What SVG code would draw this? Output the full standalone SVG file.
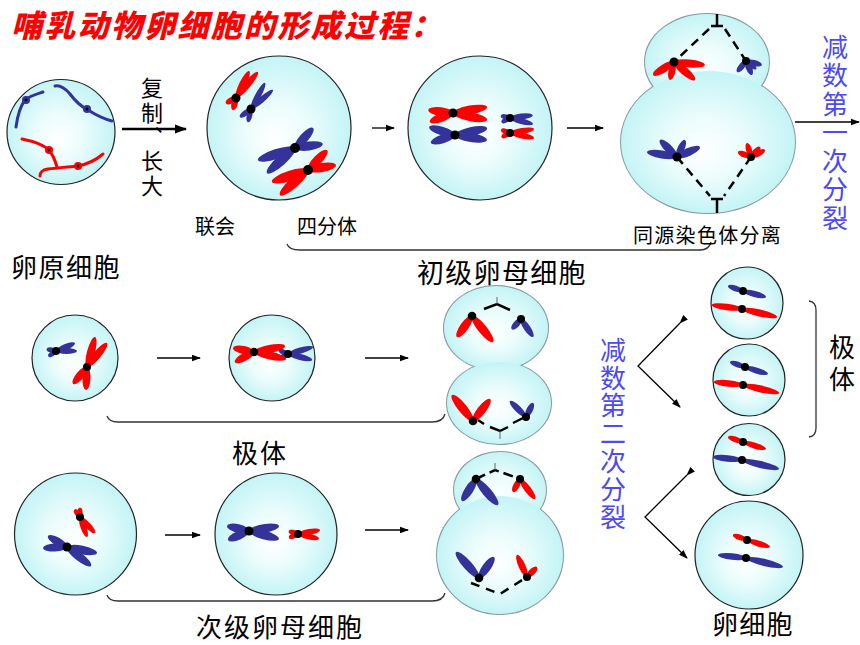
<svg xmlns="http://www.w3.org/2000/svg" width="860" height="645" viewBox="0 0 860 645">
<defs>
<radialGradient id="g" cx="0.5" cy="0.5" r="0.5" fx="0.47" fy="0.58">
<stop offset="0" stop-color="#ffffff"/>
<stop offset="0.45" stop-color="#ebfcfc"/>
<stop offset="1" stop-color="#c4f4f6"/>
</radialGradient>
<marker id="ah" markerWidth="9" markerHeight="8" refX="8" refY="4" orient="auto" markerUnits="userSpaceOnUse"><path d="M0,0.8 L9,4 L0,7.2 z" fill="#000"/></marker>
<marker id="ahb" markerWidth="12" markerHeight="10" refX="11" refY="5" orient="auto" markerUnits="userSpaceOnUse"><path d="M0,0.5 L12,5 L0,9.5 z" fill="#000"/></marker>
</defs>
<style>
.t{font-family:"Noto Sans CJK SC","Noto Sans",sans-serif;fill:#000}
.v{font-family:"Noto Sans CJK SC","Noto Sans",sans-serif;fill:#4b4bef;font-size:26px;writing-mode:vertical-rl}
.vt{font-family:"Noto Sans CJK SC","Noto Sans",sans-serif;fill:#000;writing-mode:vertical-rl}
.cell{fill:url(#g);stroke:#222;stroke-width:1.2}
.ol{fill:none;stroke:#8a9a9c;stroke-width:2}
.fl{fill:url(#g)}
.r{fill:#ff0000}
.b{fill:#333399}
.d{fill:#000}
.ln{fill:none;stroke:#000;stroke-width:1.3}
.br{fill:none;stroke:#333;stroke-width:1.3}
.sp{fill:none;stroke:#000;stroke-width:2.5;stroke-dasharray:9 6}
.so{fill:none;stroke:#000;stroke-width:2.5}
.tk{fill:none;stroke:#666;stroke-width:1}
</style>

<text x="11" y="37" font-size="31" font-style="italic" font-weight="900" fill="#ff0000" letter-spacing="2.3" font-family="'Noto Sans CJK SC','Noto Sans',sans-serif">哺乳动物卵细胞的形成过程：</text>

<g id="connectors">
<line x1="122" y1="129" x2="186" y2="129" stroke="#000" stroke-width="2.6" marker-end="url(#ahb)"/>
<line class="ln" x1="372" y1="128" x2="394" y2="128" marker-end="url(#ah)"/>
<line class="ln" x1="567" y1="128" x2="603" y2="128" marker-end="url(#ah)"/>
<line class="ln" x1="795" y1="122" x2="859" y2="122" marker-end="url(#ah)"/>
<line class="ln" x1="157" y1="358" x2="200" y2="358" marker-end="url(#ah)"/>
<line class="ln" x1="365" y1="358" x2="408" y2="358" marker-end="url(#ah)"/>
<line class="ln" x1="165" y1="535" x2="200" y2="535" marker-end="url(#ah)"/>
<line class="ln" x1="365" y1="530" x2="408" y2="530" marker-end="url(#ah)"/>
<polyline class="ln" points="680,323 638,366 680,407" marker-start="url(#ah)" marker-end="url(#ah)"/>
<polyline class="ln" points="687,475 645,517 687,558" marker-start="url(#ah)" marker-end="url(#ah)"/>
<path class="br" d="M287,244 Q289,250 300,250 L700,250 Q709,250 711,242"/>
<path class="br" d="M107,416 Q109,422 118,422 L432,422 Q443,422 445,414"/>
<path class="br" d="M107,595 Q109,601 118,601 L432,601 Q443,601 445,593"/>
<path class="br" d="M809,301 Q816,302 816,310 L816,428 Q816,436 809,437"/>
</g>

<g id="labels">
<text class="vt" x="152" y="77" font-size="22" letter-spacing="2.3">复制、长大</text>
<text class="t" x="195" y="234" font-size="20">联会</text>
<text class="t" x="297" y="234" font-size="20">四分体</text>
<text class="t" x="11" y="277" font-size="26" letter-spacing="1.5">卵原细胞</text>
<text class="t" x="417" y="283" font-size="27" letter-spacing="1.3">初级卵母细胞</text>
<text class="t" x="633" y="243" font-size="20" letter-spacing="1.3">同源染色体分离</text>
<text class="t" x="232" y="463" font-size="26" letter-spacing="2">极体</text>
<text class="t" x="196" y="637" font-size="26" letter-spacing="2">次级卵母细胞</text>
<text class="t" x="712" y="634" font-size="26" letter-spacing="1.3">卵细胞</text>
<text class="vt" x="842" y="334" font-size="26" letter-spacing="6">极体</text>
<text class="v" x="835" y="34" letter-spacing="2.5">减数第一次分裂</text>
<text class="v" x="613" y="337" letter-spacing="1.8">减数第二次分裂</text>
</g>

<g id="oogonium">
<ellipse class="cell" cx="61" cy="132" rx="54" ry="52.5"/>
<g fill="none" stroke-width="3" stroke-linecap="round">
<path stroke="#333399" d="M16,127 C18,112 22,104 25,100 C30,96 37,94 43,92"/>
<path stroke="#333399" d="M55,86 C60,85 64,87 70,94 C76,102 82,107 88,110 C96,115 104,119 112,121"/>
<path stroke="#ff0000" d="M22,139 C32,141 44,145 49,150 C53,155 55,160 57,167"/>
<path stroke="#ff0000" d="M40,176 C40,172 42,170 48,169 C56,168 68,167 78,166 C88,164 96,160 103,154"/>
</g>
<circle cx="26" cy="100" r="4" class="b"/><circle cx="26" cy="100" r="1.4" class="d"/>
<circle cx="87" cy="109" r="4" class="b"/><circle cx="87" cy="109" r="1.4" class="d"/>
<circle cx="49" cy="150" r="4" class="r"/><circle cx="49" cy="150" r="1.4" class="d"/>
<circle cx="78" cy="166" r="4" class="r"/><circle cx="78" cy="166" r="1.4" class="d"/>
</g>

<g id="synapsis">
<circle class="cell" cx="279" cy="128" r="72"/>
<g transform="translate(236 98)">
<ellipse class="r" cx="17" rx="17" ry="3.5" transform="rotate(-50)"/>
<ellipse class="r" cx="15" rx="15" ry="3.5" transform="rotate(-64)"/>
<ellipse class="r" cx="5.5" rx="6" ry="3.2" transform="rotate(153)"/>
<ellipse class="r" cx="6" rx="6.5" ry="3.2" transform="rotate(104)"/>
<circle r="4.5" class="d"/>
</g>
<g transform="translate(251 109)">
<ellipse class="b" cx="14.5" rx="14.5" ry="3" transform="rotate(-41)"/>
<ellipse class="b" cx="14.8" rx="14.8" ry="3" transform="rotate(-62)"/>
<ellipse class="b" cx="6.8" rx="7" ry="2.8" transform="rotate(144)"/>
<ellipse class="b" cx="6.6" rx="7" ry="2.8" transform="rotate(103)"/>
<circle r="4.5" class="d"/>
</g>
<g transform="translate(295 148)">
<ellipse class="b" cx="14" rx="14" ry="4.5" transform="rotate(-8)"/>
<ellipse class="b" cx="13.5" rx="13.5" ry="4.5" transform="rotate(-48)"/>
<ellipse class="b" cx="19.5" rx="19.5" ry="5" transform="rotate(162)"/>
<ellipse class="b" cx="18.8" rx="18.8" ry="5" transform="rotate(138)"/>
<circle r="5" class="d"/>
</g>
<g transform="translate(308 170)">
<ellipse class="r" cx="14.2" rx="14.2" ry="4.5" transform="rotate(-10)"/>
<ellipse class="r" cx="13.8" rx="13.8" ry="4.5" transform="rotate(-46)"/>
<ellipse class="r" cx="19" rx="19" ry="5" transform="rotate(162)"/>
<ellipse class="r" cx="18.8" rx="18.8" ry="5" transform="rotate(138)"/>
<circle r="5" class="d"/>
</g>
</g>

<g id="metaphase1">
<circle class="cell" cx="480" cy="128" r="72"/>
<g transform="translate(453 113)">
<ellipse class="r" cx="17.3" rx="17.3" ry="4.5" transform="rotate(-10)"/>
<ellipse class="r" cx="17.4" rx="17.4" ry="4.5" transform="rotate(11.6)"/>
<ellipse class="r" cx="12.5" rx="12.5" ry="4.3" transform="rotate(187)"/>
<ellipse class="r" cx="12.4" rx="12.4" ry="4.3" transform="rotate(159)"/>
<circle r="4.5" class="d"/>
</g>
<g transform="translate(455 135)">
<ellipse class="b" cx="16.4" rx="16.4" ry="4.5" transform="rotate(-12)"/>
<ellipse class="b" cx="16.2" rx="16.2" ry="4.5" transform="rotate(9)"/>
<ellipse class="b" cx="13.5" rx="13.5" ry="4.3" transform="rotate(197)"/>
<ellipse class="b" cx="12.7" rx="12.7" ry="4.3" transform="rotate(162)"/>
<circle r="4.5" class="d"/>
</g>
<g transform="translate(510 118)">
<ellipse class="b" cx="11.5" rx="11.5" ry="3" transform="rotate(-7)"/>
<ellipse class="b" cx="11.9" rx="11.9" ry="3" transform="rotate(15)"/>
<ellipse class="b" cx="4.5" rx="5" ry="2.6" transform="rotate(194)"/>
<ellipse class="b" cx="4.5" rx="5" ry="2.6" transform="rotate(153)"/>
<circle r="4" class="d"/>
</g>
<g transform="translate(510 133)">
<ellipse class="r" cx="12.2" rx="12.2" ry="3" transform="rotate(-9.5)"/>
<ellipse class="r" cx="12.3" rx="12.3" ry="3" transform="rotate(12)"/>
<ellipse class="r" cx="4.5" rx="5" ry="2.6" transform="rotate(200)"/>
<ellipse class="r" cx="4.5" rx="5" ry="2.6" transform="rotate(153)"/>
<circle r="4" class="d"/>
</g>
</g>

<g id="anaphase1">
<ellipse class="ol" cx="707" cy="62" rx="62" ry="48"/>
<ellipse class="ol" cx="708" cy="142" rx="87" ry="71"/>
<ellipse class="fl" cx="707" cy="62" rx="62" ry="48"/>
<ellipse class="fl" cx="708" cy="142" rx="87" ry="71"/>
<path class="sp" d="M709,29 L674,62 M725,29 L746,61 M677,157 L710,196 M751,157 L724,196"/>
<path class="so" d="M711,26 H723 M717,14 V26 M711,199 H723 M717,199 V213"/>
<g transform="translate(674 62)">
<ellipse class="r" cx="12.3" rx="12.3" ry="4" transform="rotate(148)"/>
<ellipse class="r" cx="9.2" rx="9.2" ry="3.5" transform="rotate(102.5)"/>
<ellipse class="r" cx="15.5" rx="15.5" ry="4" transform="rotate(5.5)"/>
<ellipse class="r" cx="13.8" rx="13.8" ry="4" transform="rotate(40.6)"/>
<circle r="4.5" class="d"/>
</g>
<g transform="translate(746 61)">
<ellipse class="b" cx="8.2" rx="8.2" ry="3" transform="rotate(14)"/>
<ellipse class="b" cx="7.6" rx="7.6" ry="3" transform="rotate(67)"/>
<ellipse class="b" cx="7.1" rx="7.1" ry="3" transform="rotate(129)"/>
<ellipse class="b" cx="6.5" rx="6.5" ry="2.6" transform="rotate(38)"/>
<circle r="4" class="d"/>
</g>
<g transform="translate(677 157)">
<ellipse class="b" cx="15.2" rx="15.2" ry="4" transform="rotate(189.5)"/>
<ellipse class="b" cx="12" rx="12" ry="4" transform="rotate(225)"/>
<ellipse class="b" cx="9.4" rx="9.4" ry="3.5" transform="rotate(-64.8)"/>
<ellipse class="b" cx="12.5" rx="12.5" ry="4" transform="rotate(-23.5)"/>
<circle r="4.5" class="d"/>
</g>
<g transform="translate(751 157)">
<ellipse class="r" cx="7" rx="7" ry="3" transform="rotate(201)"/>
<ellipse class="r" cx="7.3" rx="7.3" ry="3" transform="rotate(254)"/>
<ellipse class="r" cx="6.8" rx="6.8" ry="3" transform="rotate(-48)"/>
<ellipse class="r" cx="7.8" rx="7.8" ry="3" transform="rotate(-26.6)"/>
<circle r="4" class="d"/>
</g>
</g>

<g id="polar1-a">
<circle class="cell" cx="75" cy="358" r="43"/>
<g transform="translate(56 351)">
<ellipse class="b" cx="10.3" rx="10.3" ry="3" transform="rotate(-22.8)"/>
<ellipse class="b" cx="10.5" rx="10.5" ry="3" transform="rotate(0)"/>
<ellipse class="b" cx="4.6" rx="5" ry="2.6" transform="rotate(192.5)"/>
<ellipse class="b" cx="4.3" rx="5" ry="2.6" transform="rotate(144.5)"/>
<circle r="4" class="d"/>
</g>
<g transform="translate(87 367)">
<ellipse class="r" cx="15.5" rx="15.5" ry="4" transform="rotate(-75)"/>
<ellipse class="r" cx="15.6" rx="15.6" ry="4" transform="rotate(-50.2)"/>
<ellipse class="r" cx="11.5" rx="11.5" ry="4" transform="rotate(92.5)"/>
<ellipse class="r" cx="11" rx="11" ry="4" transform="rotate(129.5)"/>
<circle r="4" class="d"/>
</g>
</g>

<g id="polar1-b">
<circle class="cell" cx="272" cy="358" r="43"/>
<g transform="translate(288 354)">
<ellipse class="b" cx="13" rx="13" ry="3" transform="rotate(-15.6)"/>
<ellipse class="b" cx="12.4" rx="12.4" ry="3" transform="rotate(14)"/>
<ellipse class="b" cx="4.9" rx="5.2" ry="2.6" transform="rotate(204)"/>
<ellipse class="b" cx="4.5" rx="5" ry="2.6" transform="rotate(153)"/>
</g>
<g transform="translate(254 352)">
<ellipse class="r" cx="10.7" rx="10.7" ry="4" transform="rotate(190.8)"/>
<ellipse class="r" cx="10.8" rx="10.8" ry="4" transform="rotate(152)"/>
<ellipse class="r" cx="15.8" rx="15.8" ry="4" transform="rotate(-11)"/>
<ellipse class="r" cx="16.4" rx="16.4" ry="4" transform="rotate(12.3)"/>
<circle r="4.2" class="d"/>
</g>
<circle cx="288" cy="354" r="4" class="d"/>
</g>

<g id="polar1-division">
<ellipse class="ol" cx="496" cy="328" rx="52" ry="42"/>
<ellipse class="ol" cx="499" cy="403" rx="52" ry="41"/>
<ellipse class="fl" cx="496" cy="328" rx="52" ry="42"/>
<ellipse class="fl" cx="499" cy="403" rx="52" ry="41"/>
<path class="so" d="M484,309 L497,304 L510,310 M478,420 L484,424 M490,427 L500,431 L508,427 M513,423 L523,418"/>
<path class="tk" d="M497,297 V304 M500,431 V439"/>
<g transform="translate(472 316)">
<ellipse class="r" cx="12.9" rx="12.9" ry="4.3" transform="rotate(125.5)"/>
<ellipse class="r" cx="16.7" rx="16.7" ry="4.5" transform="rotate(51)"/>
<circle r="4.3" class="d"/>
</g>
<g transform="translate(521 319)">
<ellipse class="b" cx="6.8" rx="7" ry="3.2" transform="rotate(132)"/>
<ellipse class="b" cx="10.8" rx="10.8" ry="3.3" transform="rotate(56)"/>
<circle r="4" class="d"/>
</g>
<g transform="translate(473 421)">
<ellipse class="r" cx="16.7" rx="16.7" ry="4.5" transform="rotate(231)"/>
<ellipse class="r" cx="13.9" rx="13.9" ry="4.3" transform="rotate(-52)"/>
<circle r="4.3" class="d"/>
</g>
<g transform="translate(526 417)">
<ellipse class="b" cx="11.3" rx="11.3" ry="3.3" transform="rotate(225)"/>
<ellipse class="b" cx="7.9" rx="7.9" ry="3.2" transform="rotate(-63)"/>
<circle r="4" class="d"/>
</g>
</g>

<g id="secondary-a">
<circle class="cell" cx="75.5" cy="534" r="61"/>
<g transform="translate(80 517)">
<ellipse class="r" cx="4.3" rx="5" ry="2.6" transform="rotate(234.5)"/>
<ellipse class="r" cx="4.5" rx="5" ry="2.6" transform="rotate(270)"/>
<ellipse class="r" cx="10.6" rx="10.6" ry="3" transform="rotate(70.7)"/>
<ellipse class="r" cx="11" rx="11" ry="3" transform="rotate(46.8)"/>
<circle r="4" class="d"/>
</g>
<g transform="translate(67 547)">
<ellipse class="b" cx="11" rx="11" ry="4" transform="rotate(210)"/>
<ellipse class="b" cx="12" rx="12" ry="4" transform="rotate(177.6)"/>
<ellipse class="b" cx="15.3" rx="15.3" ry="4.3" transform="rotate(11.3)"/>
<ellipse class="b" cx="15.3" rx="15.3" ry="4.3" transform="rotate(38.4)"/>
<circle r="4.5" class="d"/>
</g>
</g>

<g id="secondary-b">
<circle class="cell" cx="276" cy="534" r="61"/>
<g transform="translate(249 531)">
<ellipse class="b" cx="15.2" rx="15.2" ry="4.3" transform="rotate(-9.5)"/>
<ellipse class="b" cx="15.5" rx="15.5" ry="4.3" transform="rotate(15)"/>
<ellipse class="b" cx="11.3" rx="11.3" ry="4.3" transform="rotate(193)"/>
<ellipse class="b" cx="11.4" rx="11.4" ry="4.3" transform="rotate(157)"/>
<circle r="4.5" class="d"/>
</g>
<g transform="translate(298 534)">
<ellipse class="r" cx="11.2" rx="11.2" ry="3" transform="rotate(-10)"/>
<ellipse class="r" cx="10.8" rx="10.8" ry="3" transform="rotate(13)"/>
<ellipse class="r" cx="4.8" rx="5" ry="2.6" transform="rotate(198)"/>
<ellipse class="r" cx="4.9" rx="5" ry="2.6" transform="rotate(156)"/>
<circle r="4" class="d"/>
</g>
</g>

<g id="secondary-division">
<ellipse class="ol" cx="500" cy="490" rx="46" ry="38"/>
<ellipse class="ol" cx="500" cy="555" rx="63" ry="59"/>
<ellipse class="fl" cx="500" cy="490" rx="46" ry="38"/>
<ellipse class="fl" cx="500" cy="555" rx="63" ry="59"/>
<path class="sp" style="stroke-dasharray:10 5" d="M476,479 L495,470 L520,479"/>
<path class="sp" style="stroke-dasharray:9 7" d="M471,583 L500,594 L527,577"/>
<path class="tk" d="M495,463 V470"/>
<g transform="translate(476 479)">
<ellipse class="b" cx="13" rx="13" ry="4.3" transform="rotate(122.5)"/>
<ellipse class="b" cx="17" rx="17" ry="4.5" transform="rotate(49.8)"/>
<circle r="4.3" class="d"/>
</g>
<g transform="translate(520 479)">
<ellipse class="r" cx="7.4" rx="7.4" ry="3.2" transform="rotate(118)"/>
<ellipse class="r" cx="12.5" rx="12.5" ry="3.4" transform="rotate(53)"/>
<circle r="4" class="d"/>
</g>
<g transform="translate(479 578)">
<ellipse class="b" cx="17.3" rx="17.3" ry="4.5" transform="rotate(228.5)"/>
<ellipse class="b" cx="12.9" rx="12.9" ry="4.3" transform="rotate(-54.5)"/>
<circle r="4.3" class="d"/>
</g>
<g transform="translate(527 577)">
<ellipse class="r" cx="12.1" rx="12.1" ry="3.4" transform="rotate(245.6)"/>
<ellipse class="r" cx="7" rx="7" ry="3.2" transform="rotate(-45)"/>
<circle r="4" class="d"/>
</g>
</g>

<g id="polar2-1">
<circle class="cell" cx="747" cy="303" r="36"/>
<g transform="translate(743 291)">
<ellipse class="b" cx="7.9" rx="7.9" ry="2.8" transform="rotate(198.4)"/>
<ellipse class="b" cx="11.9" rx="11.9" ry="3" transform="rotate(14.6)"/>
<circle r="4" class="d"/>
</g>
<g transform="translate(742 309)">
<ellipse class="r" cx="15.2" rx="15.2" ry="3.3" transform="rotate(187.6)"/>
<ellipse class="r" cx="18" rx="18" ry="3.5" transform="rotate(12.9)"/>
<circle r="4" class="d"/>
</g>
</g>

<g id="polar2-2">
<circle class="cell" cx="749" cy="380" r="36"/>
<g transform="translate(745 367)">
<ellipse class="b" cx="7.9" rx="7.9" ry="2.8" transform="rotate(198.4)"/>
<ellipse class="b" cx="12" rx="12" ry="3" transform="rotate(17)"/>
<circle r="4" class="d"/>
</g>
<g transform="translate(743 385)">
<ellipse class="r" cx="14.6" rx="14.6" ry="3.3" transform="rotate(186)"/>
<ellipse class="r" cx="18.5" rx="18.5" ry="3.5" transform="rotate(12.5)"/>
<circle r="4" class="d"/>
</g>
</g>

<g id="polar2-3">
<circle class="cell" cx="749" cy="459.5" r="36"/>
<g transform="translate(743 442)">
<ellipse class="r" cx="7.9" rx="7.9" ry="2.8" transform="rotate(198.4)"/>
<ellipse class="r" cx="12" rx="12" ry="3" transform="rotate(17)"/>
<circle r="4" class="d"/>
</g>
<g transform="translate(742 460)">
<ellipse class="b" cx="14.6" rx="14.6" ry="3.3" transform="rotate(186)"/>
<ellipse class="b" cx="19" rx="19" ry="3.5" transform="rotate(13.7)"/>
<circle r="4" class="d"/>
</g>
</g>

<g id="ovum">
<circle class="cell" cx="749" cy="555" r="54"/>
<g transform="translate(747 540)">
<ellipse class="r" cx="7.5" rx="7.5" ry="2.8" transform="rotate(199.7)"/>
<ellipse class="r" cx="12" rx="12" ry="3" transform="rotate(17)"/>
<circle r="4" class="d"/>
</g>
<g transform="translate(746 558)">
<ellipse class="b" cx="14.1" rx="14.1" ry="3.3" transform="rotate(186)"/>
<ellipse class="b" cx="19" rx="19" ry="3.5" transform="rotate(13.7)"/>
<circle r="4" class="d"/>
</g>
</g>
</svg>
